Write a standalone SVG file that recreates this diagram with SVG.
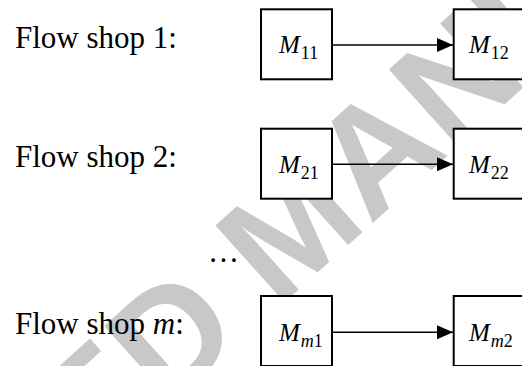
<svg xmlns="http://www.w3.org/2000/svg" width="522" height="366" viewBox="0 0 522 366">
  <style>
    .lbl { font-family: "Liberation Serif", "Times New Roman", serif; font-size: 31px; fill: #000; }
    .mt { font-family: "Liberation Serif", "Times New Roman", serif; font-size: 25px; fill: #000; font-style: italic; }
    .sub { font-size: 18px; font-style: normal; }
    .subi { font-size: 18px; font-style: italic; }
    .box { fill: #fff; stroke: #000; stroke-width: 2; }
    .conn { stroke: #000; stroke-width: 1.5; fill: none; }
    .wm { font-family: "Liberation Sans", Arial, sans-serif; font-weight: bold; font-size: 150px; fill: #c8c8c8; }
  </style>
  <defs>
    <marker id="arrow" markerUnits="userSpaceOnUse" markerWidth="16" markerHeight="14" refX="16" refY="7" orient="auto">
      <path d="M0,0 L16,7 L0,14 z" fill="#000"/>
    </marker>
  </defs>
  <rect width="522" height="366" fill="#fff"/>
  <g id="watermark" transform="translate(-367,889) rotate(-42)">
    <text class="wm" x="0" y="0">ACCEPTED MANUSCRIPT</text>
  </g>
  <g id="labels">
    <text class="lbl" x="15" y="48">Flow shop 1:</text>
    <text class="lbl" x="15" y="167">Flow shop 2:</text>
    <text class="lbl" x="208" y="262">…</text>
    <text class="lbl" x="15" y="334">Flow shop <tspan font-style="italic">m</tspan>:</text>
  </g>
  <g id="connectors">
    <line class="conn" x1="333" y1="45" x2="453" y2="45" marker-end="url(#arrow)"/>
    <line class="conn" x1="333" y1="164.3" x2="453" y2="164.3" marker-end="url(#arrow)"/>
    <line class="conn" x1="333" y1="332.3" x2="453" y2="332.3" marker-end="url(#arrow)"/>
  </g>
  <g id="M11">
    <rect class="box" x="261" y="9.3" width="71" height="70"/>
    <text class="mt" x="279" y="53.3">M<tspan class="sub" dx="1" dy="6">11</tspan></text>
  </g>
  <g id="M12">
    <rect class="box" x="453.7" y="9.3" width="71" height="70"/>
    <text class="mt" x="469" y="53.3">M<tspan class="sub" dx="1" dy="6">12</tspan></text>
  </g>
  <g id="M21">
    <rect class="box" x="261" y="128.7" width="71" height="70"/>
    <text class="mt" x="279" y="172.6">M<tspan class="sub" dx="1" dy="6">21</tspan></text>
  </g>
  <g id="M22">
    <rect class="box" x="453.7" y="128.7" width="71" height="70"/>
    <text class="mt" x="469" y="172.6">M<tspan class="sub" dx="1" dy="6">22</tspan></text>
  </g>
  <g id="Mm1">
    <rect class="box" x="261" y="296" width="71" height="70"/>
    <text class="mt" x="279" y="340.6">M<tspan class="subi" dx="1" dy="6">m</tspan><tspan class="sub">1</tspan></text>
  </g>
  <g id="Mm2">
    <rect class="box" x="453.7" y="296" width="71" height="70"/>
    <text class="mt" x="469" y="340.6">M<tspan class="subi" dx="1" dy="6">m</tspan><tspan class="sub">2</tspan></text>
  </g>
</svg>
